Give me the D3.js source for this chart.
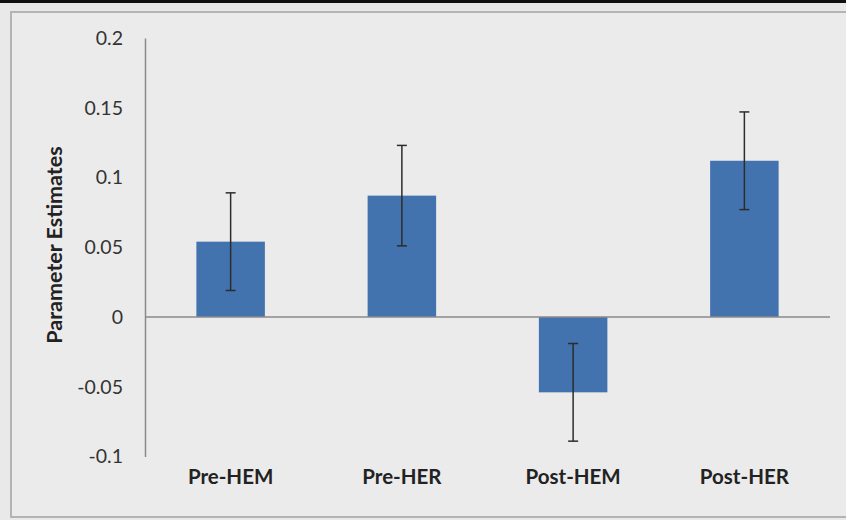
<!DOCTYPE html>
<html>
<head>
<meta charset="utf-8">
<script src="https://cdn.jsdelivr.net/npm/d3@7"></script>
<style>
  html, body { margin: 0; padding: 0; background: #e9e9e9; }
  svg { display: block; }
  text { font-family: Lato, "Open Sans", sans-serif; }
</style>
</head>
<body>
<svg id="chart" width="846" height="520"></svg>
<script>
// Parameter estimates with ± error
const categories = ["Pre-HEM", "Pre-HER", "Post-HEM", "Post-HER"];
const estimates = [0.054, 0.087, -0.054, 0.112];
const errors = [0.035, 0.036, 0.035, 0.035];
const yTicks = [-0.1, -0.05, 0, 0.05, 0.1, 0.15, 0.2];
const yTickLabels = ["-0.1", "-0.05", "0", "0.05", "0.1", "0.15", "0.2"];
const yTitle = "Parameter Estimates";

const svg = d3.select("#chart");
const W = 846, H = 520;

// page background and frame
svg.append("rect").attr("x", 0).attr("y", 0).attr("width", W).attr("height", H).attr("fill", "#e9e9e9");
svg.append("rect").attr("x", 0).attr("y", 0).attr("width", W).attr("height", 3).attr("fill", "#111");
svg.append("rect").attr("x", 11).attr("y", 12).attr("width", W + 20).attr("height", 505)
  .attr("fill", "#ebebeb").attr("stroke", "#b4b4b4").attr("stroke-width", 2);

const plot = { left: 145, right: 830, top: 38, bottom: 456.5 };

const x = d3.scaleBand()
  .domain(categories)
  .range([plot.left, plot.right])
  .paddingInner(0.6)
  .paddingOuter(0.3);

const y = d3.scaleLinear()
  .domain([-0.1, 0.2])
  .range([plot.bottom, plot.top]);

// y axis
const yAxis = d3.axisLeft(y)
  .tickValues(yTicks)
  .tickFormat((d, i) => yTickLabels[i])
  .tickSize(0)
  .tickPadding(22);

const gy = svg.append("g").attr("transform", `translate(${plot.left},0)`).call(yAxis);
gy.select(".domain").attr("stroke", "#8a8a8a").attr("stroke-width", 1.5);
gy.selectAll("text")
  .attr("fill", "#333")
  .style("font-size", "19.5px");

// bars
svg.append("g").selectAll("rect")
  .data(categories)
  .join("rect")
  .attr("x", d => x(d))
  .attr("width", x.bandwidth())
  .attr("y", (d, i) => y(Math.max(0, estimates[i])))
  .attr("height", (d, i) => Math.abs(y(estimates[i]) - y(0)))
  .attr("fill", "#4373ae");

// zero line
svg.append("line")
  .attr("x1", plot.left).attr("x2", plot.right)
  .attr("y1", y(0)).attr("y2", y(0))
  .attr("stroke", "#8a8a8a").attr("stroke-width", 1.5);

// error bars
const eg = svg.append("g").attr("stroke", "#2c2c2c").attr("stroke-width", 1.5);
categories.forEach((c, i) => {
  const cx = x(c) + x.bandwidth() / 2;
  const hi = y(estimates[i] + errors[i]);
  const lo = y(estimates[i] - errors[i]);
  eg.append("line").attr("x1", cx).attr("x2", cx).attr("y1", hi).attr("y2", lo);
  eg.append("line").attr("x1", cx - 5).attr("x2", cx + 5).attr("y1", hi).attr("y2", hi);
  eg.append("line").attr("x1", cx - 5).attr("x2", cx + 5).attr("y1", lo).attr("y2", lo);
});

// category labels
const xAxis = d3.axisBottom(x).tickSize(0).tickPadding(13);
const gx = svg.append("g").attr("transform", `translate(0,${plot.bottom})`).call(xAxis);
gx.select(".domain").remove();
gx.selectAll("text")
  .attr("fill", "#222")
  .style("font-size", "20.5px")
  .style("font-weight", "bold");

// y axis title
svg.append("text")
  .attr("transform", `translate(62,${245}) rotate(-90)`)
  .attr("text-anchor", "middle")
  .attr("fill", "#222")
  .style("font-size", "21.5px")
  .style("font-weight", "bold")
  .text(yTitle);
</script>
</body>
</html>
